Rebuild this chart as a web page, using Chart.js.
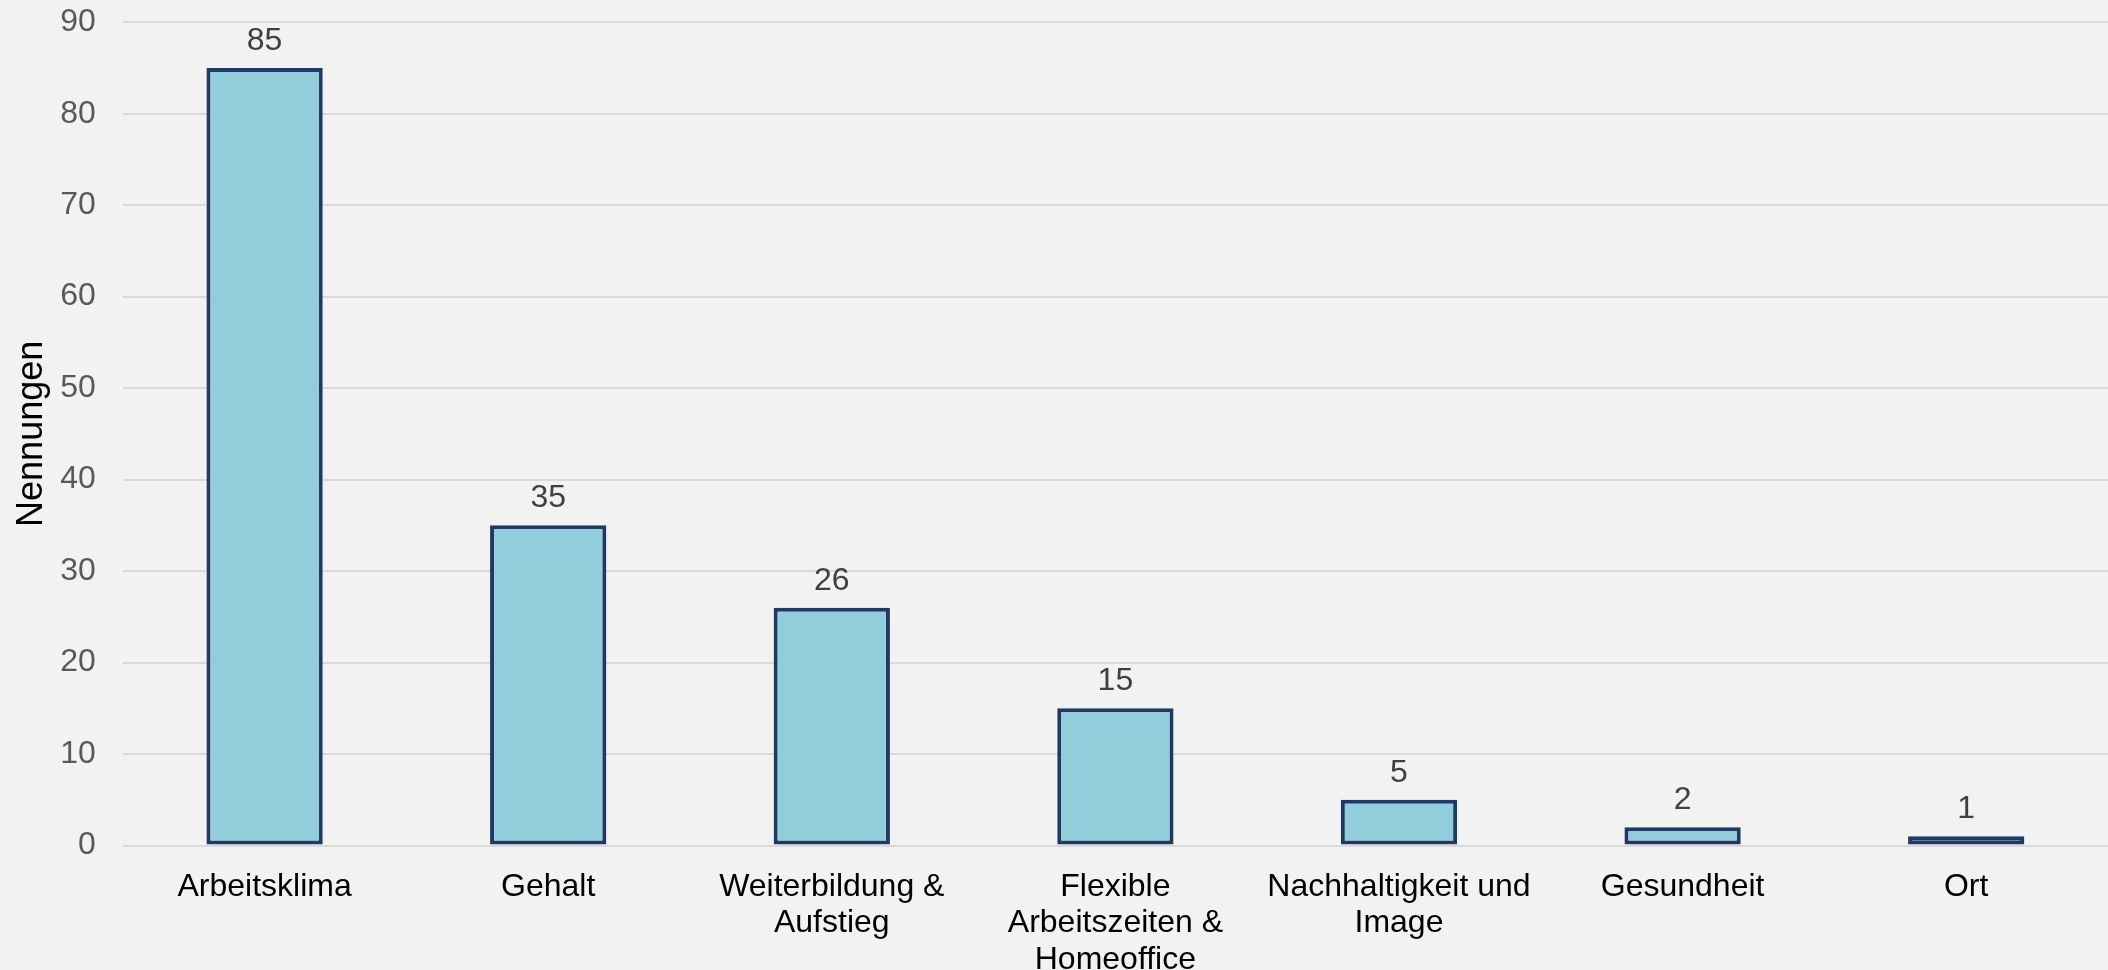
<!DOCTYPE html>
<html>
<head>
<meta charset="utf-8">
<script src="https://cdn.jsdelivr.net/npm/chart.js@4"></script>
<style>
    html, body { margin: 0; padding: 0; background: #f2f2f2; overflow: hidden; }
    #wrap { width: 2108px; height: 1017px; position: absolute; left: 0; top: -24px; }
</style>
</head>
<body>
<div id="wrap"><canvas id="chart"></canvas></div>
<script>
// --- Data ---
const categories = [
    "Arbeitsklima",
    "Gehalt",
    ["Weiterbildung &", "Aufstieg"],
    ["Flexible", "Arbeitszeiten &", "Homeoffice"],
    ["Nachhaltigkeit und", "Image"],
    "Gesundheit",
    "Ort",
];
const mentions = [85, 35, 26, 15, 5, 2, 1];
const yTicks = { min: 0, max: 90, step: 10 };
const yTitle = "Nennungen";

const fontFamily = "'Liberation Sans', Arial, sans-serif";

// draws the number above each bar
const valueLabels = {
    id: "valueLabels",
    afterDatasetsDraw(chart) {
        const ctx = chart.ctx;
        const meta = chart.getDatasetMeta(0);
        ctx.save();
        ctx.font = "32px " + fontFamily;
        ctx.fillStyle = "#404040";
        ctx.textAlign = "center";
        ctx.textBaseline = "alphabetic";
        meta.data.forEach((bar, i) => {
            ctx.fillText(String(mentions[i]), bar.x, bar.y - 18);
        });
        ctx.restore();
    },
};

const ctx = document.getElementById("chart").getContext("2d");
new Chart(ctx, {
    type: "bar",
    data: {
        labels: categories,
        datasets: [
            {
                data: mentions,
                backgroundColor: "#92cddc",
                borderColor: "#203864",
                borderWidth: 4,
                borderSkipped: false,
                categoryPercentage: 1,
                barPercentage: 0.41,
            },
        ],
    },
    options: {
        responsive: true,
        maintainAspectRatio: false,
        animation: false,
        layout: { padding: { top: 3, left: 10, right: 0, bottom: 0 } },
        plugins: {
            legend: { display: false },
            tooltip: { enabled: false },
        },
        scales: {
            x: {
                grid: { display: false },
                border: { display: false },
                ticks: {
                    color: "#000000",
                    font: { family: fontFamily, size: 32, lineHeight: "36.5px" },
                    padding: 15,
                    maxRotation: 0,
                    autoSkip: false,
                },
            },
            y: {
                min: yTicks.min,
                max: yTicks.max,
                border: { display: false },
                grid: { color: "#d9d9d9", lineWidth: 2, drawTicks: false },
                ticks: {
                    stepSize: yTicks.step,
                    color: "#595959",
                    font: { family: fontFamily, size: 32 },
                    padding: 27,
                },
                title: {
                    display: true,
                    text: yTitle,
                    color: "#000000",
                    font: { family: fontFamily, size: 36 },
                    padding: { top: 0, bottom: -20 },
                },
            },
        },
    },
    plugins: [valueLabels],
});
</script>
</body>
</html>
